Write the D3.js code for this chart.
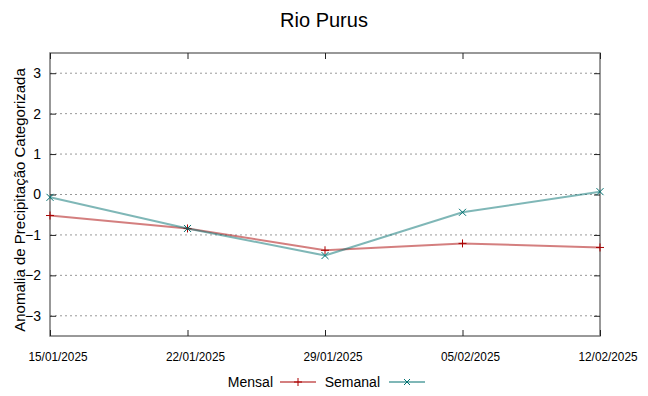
<!DOCTYPE html>
<html>
<head>
<meta charset="utf-8">
<script src="https://cdn.jsdelivr.net/npm/d3@7"></script>
<style>
  body { margin: 0; background: #fff; }
  svg { font-family: "Liberation Sans", Arial, sans-serif; }
</style>
</head>
<body>
<svg id="chart" width="648" height="396"></svg>
<script>
var dates = ['15/01/2025', '22/01/2025', '29/01/2025', '05/02/2025', '12/02/2025'];
var mensal = [-0.52, -0.84, -1.38, -1.21, -1.31];
var semanal = [-0.07, -0.84, -1.51, -0.44, 0.07];
var yTicks = [-3, -2, -1, 0, 1, 2, 3];

var svg = d3.select('#chart');
var pLeft = 50, pRight = 600, pTop = 53, pBottom = 336;

var x = d3.scalePoint().domain(dates).range([pLeft, pRight]);
var y = d3.scaleLinear().domain([-3.5, 3.5]).range([pBottom, pTop]);

// title
svg.append('text')
    .attr('x', 324).attr('y', 27)
    .attr('text-anchor', 'middle')
    .attr('font-size', 20)
    .text('Rio Purus');

// grid
svg.append('g').selectAll('line').data(yTicks).enter().append('line')
    .attr('x1', pLeft).attr('x2', pRight)
    .attr('y1', function(d) { return y(d); })
    .attr('y2', function(d) { return y(d); })
    .attr('stroke', '#999')
    .attr('stroke-width', 1)
    .attr('stroke-dasharray', '2,3');

// frame
svg.append('rect')
    .attr('x', pLeft).attr('y', pTop)
    .attr('width', pRight - pLeft).attr('height', pBottom - pTop)
    .attr('fill', 'none')
    .attr('stroke', '#777')
    .attr('stroke-width', 1.5);

// y axis (ticks inside, mirrored)
var yAxis = svg.append('g').attr('transform', 'translate(' + pLeft + ',0)')
    .call(d3.axisLeft(y).tickValues(yTicks).tickFormat(d3.format('d')).tickSize(-6).tickPadding(9));
var yAxisR = svg.append('g').attr('transform', 'translate(' + pRight + ',0)')
    .call(d3.axisRight(y).tickValues(yTicks).tickSize(-6).tickFormat(''));
[yAxis, yAxisR].forEach(function(a) {
  a.select('.domain').remove();
  a.selectAll('line').attr('stroke', '#222');
});
yAxis.selectAll('text').attr('font-size', 14).attr('fill', '#000')
    .attr('font-family', '"Liberation Sans", Arial, sans-serif');

// x axis
var xAxis = svg.append('g').attr('transform', 'translate(0,' + pBottom + ')')
    .call(d3.axisBottom(x).tickSize(-6).tickPadding(16));
var xAxisT = svg.append('g').attr('transform', 'translate(0,' + pTop + ')')
    .call(d3.axisTop(x).tickSize(-6).tickFormat(''));
[xAxis, xAxisT].forEach(function(a) {
  a.select('.domain').remove();
  a.selectAll('line').attr('stroke', '#222');
});
xAxis.selectAll('text').attr('font-size', 13).attr('fill', '#000')
    .attr('dx', 7.5)
    .attr('textLength', 59).attr('lengthAdjust', 'spacingAndGlyphs')
    .attr('font-family', '"Liberation Sans", Arial, sans-serif');

// y label
svg.append('text')
    .attr('transform', 'translate(25,200) rotate(-90)')
    .attr('text-anchor', 'middle')
    .attr('font-size', 15)
    .text('Anomalia de Precipitação Categorizada');

var series = [
  { name: 'Mensal', values: mensal, color: '#aa0000', marker: 'plus' },
  { name: 'Semanal', values: semanal, color: '#007070', marker: 'cross' }
];

var line = d3.line()
    .x(function(d, i) { return x(dates[i]); })
    .y(function(d) { return y(d); });

function drawMarker(g, type, cx, cy, color, s) {
  if (type === 'plus') {
    g.append('path')
      .attr('d', 'M' + (cx - s) + ',' + cy + 'H' + (cx + s) + 'M' + cx + ',' + (cy - s) + 'V' + (cy + s))
      .attr('stroke', color).attr('stroke-width', 1).attr('fill', 'none');
  } else {
    g.append('path')
      .attr('d', 'M' + (cx - s) + ',' + (cy - s) + 'L' + (cx + s) + ',' + (cy + s) +
                 'M' + (cx - s) + ',' + (cy + s) + 'L' + (cx + s) + ',' + (cy - s))
      .attr('stroke', color).attr('stroke-width', 1).attr('fill', 'none');
  }
}

series.forEach(function(s) {
  var g = svg.append('g');
  g.append('path')
    .datum(s.values)
    .attr('d', line)
    .attr('fill', 'none')
    .attr('stroke', s.color)
    .attr('stroke-opacity', 0.5)
    .attr('stroke-width', 2);
  s.values.forEach(function(v, i) {
    drawMarker(g, s.marker, x(dates[i]), y(v), s.color, s.marker === 'plus' ? 4 : 3.5);
  });
});

// legend
var legend = [
  { text: 'Mensal', tx: 273, x1: 280, x2: 316 },
  { text: 'Semanal', tx: 380, x1: 389, x2: 425 }
];
legend.forEach(function(l, i) {
  var s = series[i];
  svg.append('text')
    .attr('x', l.tx).attr('y', 387)
    .attr('text-anchor', 'end')
    .attr('font-size', 14)
    .text(l.text);
  svg.append('line')
    .attr('x1', l.x1).attr('x2', l.x2)
    .attr('y1', 382).attr('y2', 382)
    .attr('stroke', s.color).attr('stroke-width', 1.2);
  drawMarker(svg.append('g'), s.marker, (l.x1 + l.x2) / 2, 382, s.color, s.marker === 'plus' ? 4 : 3);
});
</script>
</body>
</html>
